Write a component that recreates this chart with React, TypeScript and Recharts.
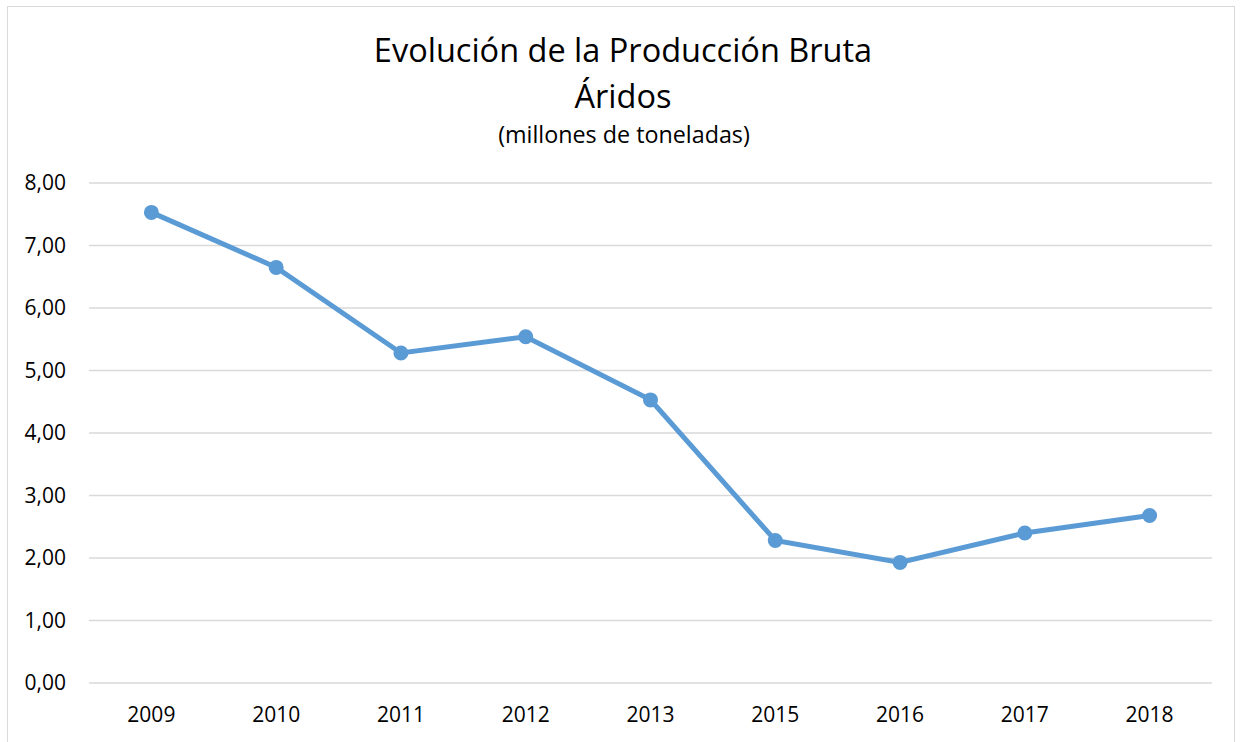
import React from 'react';
import { LineChart, Line, XAxis, YAxis, CartesianGrid } from 'recharts';

// Producción bruta de áridos, millones de toneladas
const years = ['2009', '2010', '2011', '2012', '2013', '2015', '2016', '2017', '2018'];
const production = [7.53, 6.65, 5.28, 5.54, 4.53, 2.28, 1.93, 2.4, 2.68];
const yTicks = [0, 1, 2, 3, 4, 5, 6, 7, 8];

const titleLine1 = 'Evolución de la Producción Bruta';
const titleLine2 = 'Áridos';
const subtitle = '(millones de toneladas)';

const chartData = years.map((year, i) => ({ year, value: production[i] }));

const FONT = '"Open Sans", sans-serif';
const BLUE = '#5B9BD5';

const formatComma = (v: number) => v.toFixed(2).replace('.', ',');

export default function App() {
  return (
    <div style={{ position: 'absolute', left: 0, top: 0, width: 1241, height: 742, background: '#fff', overflow: 'hidden' }}>
      {/* chart frame, bottom edge falls outside the picture */}
      <div
        style={{
          position: 'absolute',
          left: 7,
          top: 6,
          width: 1228,
          height: 760,
          border: '1.5px solid #D9D9D9',
          boxSizing: 'border-box',
        }}
      />
      <svg width={1241} height={160} style={{ position: 'absolute', left: 0, top: 0 }}>
        <text x={623} y={62} textAnchor="middle" fontFamily={FONT} fontSize={32.5} fill="#000">
          {titleLine1}
        </text>
        <text x={623} y={108} textAnchor="middle" fontFamily={FONT} fontSize={32.5} fill="#000">
          {titleLine2}
        </text>
        <text x={624} y={143} textAnchor="middle" fontFamily={FONT} fontSize={23.3} fill="#000">
          {subtitle}
        </text>
      </svg>
      <div style={{ position: 'absolute', left: 0, top: 0 }}>
        <LineChart
          width={1241}
          height={742}
          data={chartData}
          margin={{ top: 183, right: 29, left: 0, bottom: 0 }}
        >
          <CartesianGrid vertical={false} stroke="#D9D9D9" strokeWidth={1.5} />
          <XAxis
            dataKey="year"
            height={59}
            axisLine={false}
            tickLine={false}
            tickSize={0}
            tickMargin={24}
            scale="band"
            tick={{ fontSize: 21, fontFamily: FONT, fill: '#000' }}
          />
          <YAxis
            width={89}
            domain={[0, 8]}
            ticks={yTicks}
            interval={0}
            axisLine={false}
            tickLine={false}
            tickSize={0}
            tickMargin={23}
            tickFormatter={formatComma}
            tick={{ fontSize: 21, fontFamily: FONT, fill: '#000' }}
          />
          <Line
            type="linear"
            dataKey="value"
            stroke={BLUE}
            strokeWidth={5}
            dot={{ r: 6.5, fill: BLUE, stroke: BLUE, strokeWidth: 2 }}
            isAnimationActive={false}
          />
        </LineChart>
      </div>
    </div>
  );
}
